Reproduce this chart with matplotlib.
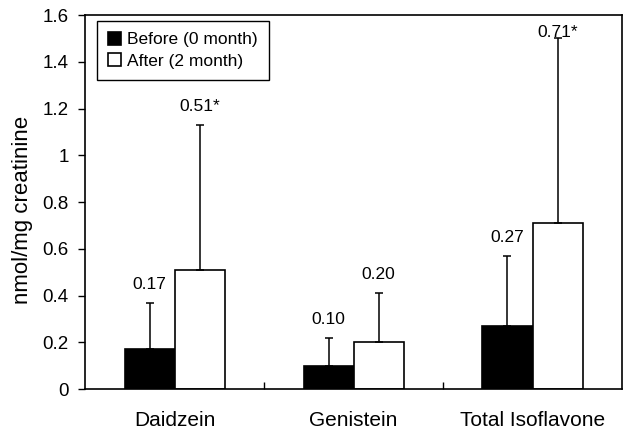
import numpy as np
import matplotlib.pyplot as plt

plt.rcParams['font.family'] = ['Liberation Sans', 'DejaVu Sans']

categories = ["Daidzein", "Genistein", "Total Isoflavone"]
before = [0.17, 0.10, 0.27]
before_sd = [0.20, 0.12, 0.30]
after = [0.51, 0.20, 0.71]
after_sd = [0.62, 0.21, 0.79]
before_labels = ["0.17", "0.10", "0.27"]
after_labels = ["0.51*", "0.20", "0.71*"]

fig = plt.figure(figsize=(6.27, 4.30), dpi=100)
ax = fig.add_axes([0.136, 0.095, 0.856, 0.870])

x = np.arange(len(categories))
w = 0.28

ax.bar(x - w / 2, before, w, color="black", edgecolor="black", linewidth=1.2,
       label="Before (0 month)")
ax.bar(x + w / 2, after, w, color="white", edgecolor="black", linewidth=1.2,
       label="After (2 month)")

ax.errorbar(x - w / 2, before, yerr=[np.zeros(3), before_sd], fmt="none",
            ecolor="black", elinewidth=1.1, capsize=3, capthick=1.1)
ax.errorbar(x + w / 2, after, yerr=[np.zeros(3), after_sd], fmt="none",
            ecolor="black", elinewidth=1.1, capsize=3, capthick=1.1)

# value labels above the error bars
for i in range(3):
    top = before[i] + before_sd[i]
    ax.annotate(before_labels[i], (x[i] - w / 2, top), xytext=(0, 8),
                textcoords="offset points", ha="center", va="bottom", fontsize=12.5)
    top = after[i] + after_sd[i]
    off = 8 if top < 1.4 else -1
    ax.annotate(after_labels[i], (x[i] + w / 2, top), xytext=(0, off),
                textcoords="offset points", ha="center", va="bottom", fontsize=12.5)

ax.set_xlim(-0.5, 2.5)
ax.set_ylim(0, 1.6)
ax.set_yticks([0, 0.2, 0.4, 0.6, 0.8, 1, 1.2, 1.4, 1.6])
ax.set_yticklabels(["0", "0.2", "0.4", "0.6", "0.8", "1", "1.2", "1.4", "1.6"])
ax.tick_params(axis="y", direction="out", length=5, width=1, labelsize=13.5, pad=7)

ax.set_xticks(x)
ax.set_xticklabels(categories, fontsize=15)
ax.tick_params(axis="x", length=0, pad=16)
ax.set_xticks([0.5, 1.5], minor=True)
ax.tick_params(axis="x", which="minor", direction="in", length=5, width=1)

ax.set_ylabel("nmol/mg creatinine", fontsize=16, labelpad=7, y=0.48)

for s in ax.spines.values():
    s.set_linewidth(1.2)

leg = ax.legend(loc="upper left", bbox_to_anchor=(0.022, 0.985), fontsize=12.5,
                frameon=True, fancybox=False, edgecolor="black", framealpha=1,
                handlelength=0.75, handleheight=0.75, handletextpad=0.3,
                borderpad=0.65, labelspacing=0.35, borderaxespad=0)
leg.get_frame().set_linewidth(1)

fig.savefig("out.png", dpi=100)
